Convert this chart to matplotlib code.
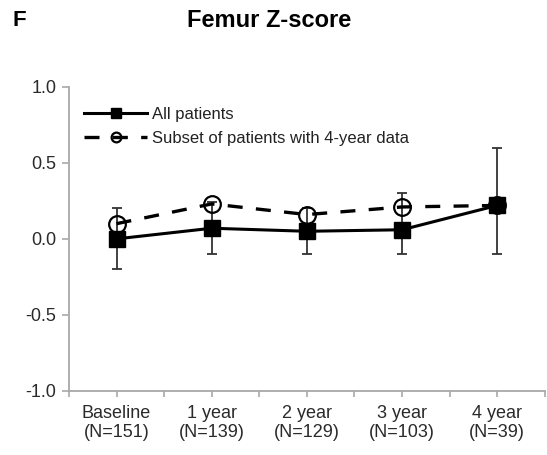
import matplotlib
matplotlib.use("Agg")
import matplotlib.pyplot as plt
import numpy as np

plt.rcParams['font.family'] = ['Liberation Sans', 'DejaVu Sans']

categories = ["Baseline\n(N=151)", "1 year\n(N=139)", "2 year\n(N=129)", "3 year\n(N=103)", "4 year\n(N=39)"]
all_patients = [0.0, 0.07, 0.05, 0.06, 0.22]
all_lower = [-0.20, -0.10, -0.10, -0.10, -0.10]
all_upper = [0.20, 0.24, 0.20, 0.30, 0.60]
subset = [0.10, 0.23, 0.16, 0.21, 0.22]
yticks = [-1.0, -0.5, 0.0, 0.5, 1.0]

fig = plt.figure(figsize=(5.47, 4.55), dpi=100)
ax = fig.add_axes([0.126, 0.141, 0.870, 0.668])

x = np.arange(len(categories))
yerr = [np.array(all_patients) - np.array(all_lower), np.array(all_upper) - np.array(all_patients)]
ax.errorbar(x, all_patients, yerr=yerr, fmt='none', ecolor='#333333', elinewidth=1.3,
            capsize=3.8, capthick=1.3, zorder=2)
ax.plot(x, subset, linestyle=(0, (4.5, 4)), color='black', lw=2.4, marker='o', markersize=12,
        markerfacecolor='none', markeredgecolor='black', markeredgewidth=1.6,
        label='Subset of patients with 4-year data', zorder=3)
ax.plot(x, all_patients, linestyle='-', color='black', lw=2.2, marker='s', markersize=11,
        markerfacecolor='black', markeredgecolor='black', label='All patients', zorder=4)

ax.set_xlim(-0.5, len(categories) - 0.5)
ax.set_ylim(-1.0, 1.0)
ax.set_yticks(yticks)
ax.set_yticklabels([f"{v:.1f}" for v in yticks])
ax.set_xticks(x)
ax.set_xticklabels(categories, linespacing=1.15)
ax.set_xticks(np.arange(-0.5, len(categories), 0.5), minor=True)

for s in ['top', 'right']:
    ax.spines[s].set_visible(False)
for s in ['left', 'bottom']:
    ax.spines[s].set_color('#a8a8a8')
    ax.spines[s].set_linewidth(1.3)
ax.tick_params(axis='both', which='both', direction='out', color='#a8a8a8', width=1.2,
               labelsize=13, labelcolor='#2a2a2a')
ax.tick_params(axis='x', which='both', length=4, pad=6)
ax.tick_params(axis='y', length=5, pad=4)

handles, labels = ax.get_legend_handles_labels()
leg = ax.legend(handles[::-1], labels[::-1], loc='upper left', bbox_to_anchor=(0.018, 0.955),
                frameon=False, fontsize=12, handlelength=3.8, handletextpad=0.3,
                labelspacing=0.5, borderaxespad=0)
for t in leg.get_texts():
    t.set_color('#222222')
for h in leg.legend_handles:
    h.set_markersize(7)

fig.text(0.022, 0.956, "F", fontsize=16, fontweight='bold', ha='left', va='center')
fig.text(0.492, 0.956, "Femur Z-score", fontsize=17, fontweight='bold', ha='center', va='center')

fig.savefig("out.png", dpi=100)
